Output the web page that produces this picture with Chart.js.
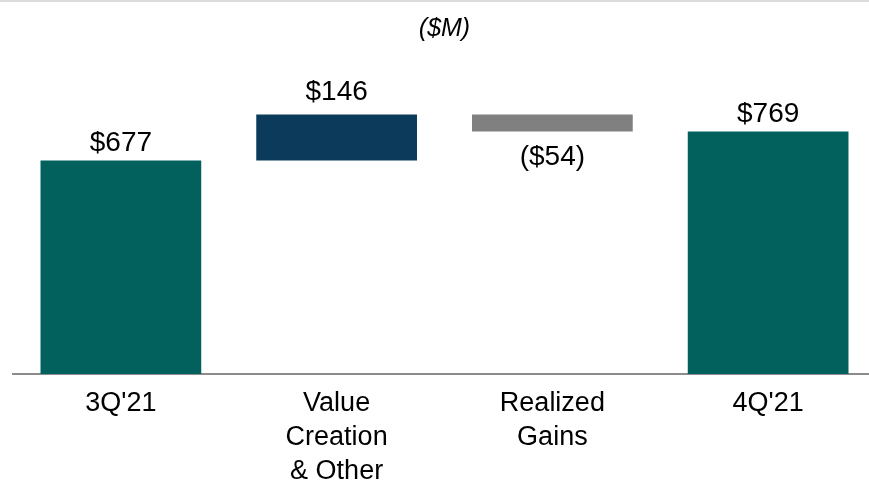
<!DOCTYPE html>
<html>
<head>
<meta charset="utf-8">
<script src="https://cdn.jsdelivr.net/npm/chart.js@4"></script>
<style>
  html, body { margin: 0; padding: 0; background: #fff; overflow: hidden; }
  #wrap { position: relative; width: 869px; height: 483px; overflow: hidden; }
  #topline { position: absolute; left: 0; top: 0; width: 869px; height: 2px; background: #dcdcdc; z-index: 2; }
  #wrap canvas { position: absolute; left: 0; top: 0; }
</style>
</head>
<body>
<div id="wrap">
  <div id="topline"></div>
  <canvas id="bridgeChart" width="880" height="483"></canvas>
</div>
<script>
// bridge from 3Q'21 to 4Q'21, $M
const categories = [["3Q'21"], ["Value", "Creation", "& Other"], ["Realized", "Gains"], ["4Q'21"]];
const changes = [677, 146, -54, 769];
const isTotal = [true, false, false, true];
const valueLabels = ["$677", "$146", "($54)", "$769"];
const barColors = ["#02605d", "#0b3a5b", "#808080", "#02605d"];

// build floating bars from the running total
let running = 0;
const floats = changes.map((v, i) => {
  if (isTotal[i]) { running = v; return [0, v]; }
  const start = running;
  running += v;
  return [Math.min(start, running), Math.max(start, running)];
});

const valueLabelPlugin = {
  id: 'valueLabels',
  afterDatasetsDraw(chart) {
    const ctx = chart.ctx;
    const meta = chart.getDatasetMeta(0);
    ctx.save();
    ctx.font = '28px "Liberation Sans", Arial, sans-serif';
    ctx.fillStyle = '#000';
    ctx.textAlign = 'center';
    meta.data.forEach((bar, i) => {
      const props = bar.getProps(['x', 'y', 'base'], true);
      const top = Math.min(props.y, props.base);
      const bottom = Math.max(props.y, props.base);
      if (changes[i] < 0) {
        ctx.textBaseline = 'top';
        ctx.fillText(valueLabels[i], props.x, bottom + 12);
      } else {
        // step bars sit a bit higher off their bar than the totals
        ctx.textBaseline = 'alphabetic';
        ctx.fillText(valueLabels[i], props.x, top - (isTotal[i] ? 9 : 14));
      }
    });
    ctx.restore();
  }
};

const bridgeChart = new Chart(document.getElementById('bridgeChart'), {
  type: 'bar',
  data: {
    labels: categories,
    datasets: [{
      data: floats,
      backgroundColor: barColors,
      borderWidth: 0,
      barPercentage: 0.745,
      categoryPercentage: 1.0
    }]
  },
  options: {
    responsive: false,
    animation: false,
    layout: { padding: { left: 13, right: 4, top: 0, bottom: 0 } },
    plugins: {
      legend: { display: false },
      tooltip: { enabled: false },
      title: {
        display: true,
        text: '($M)',
        color: '#000',
        font: { family: '"Liberation Sans", Arial, sans-serif', size: 25, style: 'italic', weight: 'normal', lineHeight: 1.2 },
        padding: { top: 14, bottom: 1 }
      }
    },
    scales: {
      x: {
        grid: { display: false, drawTicks: false },
        border: { display: true, color: '#8c8c8c', width: 2 },
        ticks: {
          color: '#000',
          padding: 13,
          maxRotation: 0,
          autoSkip: false,
          font: { family: '"Liberation Sans", Arial, sans-serif', size: 27, lineHeight: 1.25 }
        },
        afterFit(scale) { scale.height = 109; }
      },
      y: {
        display: false,
        min: 0,
        max: 1043
      }
    }
  },
  plugins: [valueLabelPlugin]
});
</script>
</body>
</html>
